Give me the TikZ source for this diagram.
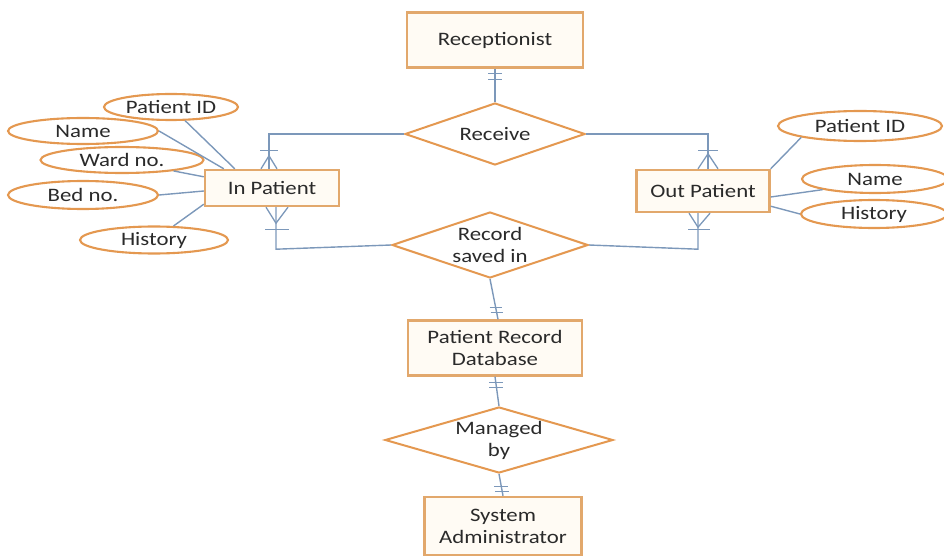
\documentclass[tikz,border=0pt]{standalone}
\usepackage{fontspec}
\setmainfont{Carlito}[FakeStretch=1.2]
\usetikzlibrary{shapes.geometric,calc}
\definecolor{edgeblue}{HTML}{7C98BA}
\definecolor{boxline}{HTML}{E2A86C}
\definecolor{ovalline}{HTML}{E49850}
\definecolor{boxfill}{HTML}{FFFBF4}
\definecolor{ink}{HTML}{2A2A2A}
\begin{document}
\begin{tikzpicture}[x=1pt,y=-1pt,
  every node/.style={font=\fontsize{19}{22}\selectfont, text=ink},
  entity/.style={draw=boxline, line width=2.4pt, fill=boxfill, align=center, inner sep=0pt},
  attr/.style={ellipse, draw=ovalline, line width=2.1pt, fill=white, inner sep=0pt},
  rel/.style={diamond, draw=ovalline, line width=2pt, fill=white, inner sep=0pt,
    label={[align=center]center:#1}},
  link/.style={draw=edgeblue, line width=1.4pt},
  tick/.style={draw=edgeblue, line width=1.3pt}]
\useasboundingbox (0,0) rectangle (944,556);

% entities
\node[entity, minimum width=176pt, minimum height=55pt] (rec) at (495,40) {Receptionist};
\node[entity, minimum width=134pt, minimum height=36pt] (ip) at (272,188) {In Patient};
\node[entity, minimum width=133pt, minimum height=42pt] (op) at (703,191) {Out Patient};
\node[entity, minimum width=174pt, minimum height=55pt] (db) at (495,348) {Patient Record\\Database};
\node[entity, minimum width=157pt, minimum height=58pt] (sa) at (503,526) {System\\Administrator};

% relationships
\node[rel={Receive}, minimum width=180pt, minimum height=62pt] (rcv) at (495,134) {};
\node[rel={Record\\saved in}, minimum width=196pt, minimum height=66pt] (rs) at (490,245) {};
\node[rel={Managed\\by}, minimum width=228pt, minimum height=66pt] (mb) at (499,440) {};

% attributes of In Patient
\node[attr, minimum width=134pt, minimum height=26pt] (pidL) at (171,107) {Patient ID};
\node[attr, minimum width=150pt, minimum height=26pt] (nameL) at (83,131) {Name};
\node[attr, minimum width=163pt, minimum height=26pt] (wardL) at (122,160) {Ward no.};
\node[attr, minimum width=150pt, minimum height=28pt] (bedL) at (83,195) {Bed no.};
\node[attr, minimum width=148pt, minimum height=27pt] (histL) at (154,240) {History};

% attributes of Out Patient
\node[attr, minimum width=164pt, minimum height=30pt] (pidR) at (860,126) {Patient ID};
\node[attr, minimum width=146pt, minimum height=28pt] (nameR) at (875,179) {Name};
\node[attr, minimum width=146pt, minimum height=28pt] (histR) at (874,214) {History};

% attribute links
\draw[link] (pidL) -- ($(ip.north west)+(31,0)$);
\draw[link] (nameL.east) -- ($(ip.north west)+(20,0)$);
\draw[link] (wardL.-12) -- ($(ip.north west)+(0,8)$);
\draw[link] (bedL.east) -- ($(ip.west)+(0,3)$);
\draw[link] (histL) -- ($(ip.south west)+(0,-3)$);
\draw[link] (pidR.south west) -- (op.north east);
\draw[link] (nameR.south west) -- ($(op.east)+(0,6)$);
\draw[link] (histR.west) -- ($(op.south east)+(0,-7)$);

% Receptionist -- Receive (one and only one)
\draw[link] (rec.south) -- (rcv.north);
\draw[tick] ($(rec.south)+(-7,5)$) -- ($(rec.south)+(7,5)$);
\draw[tick] ($(rec.south)+(-7,11)$) -- ($(rec.south)+(7,11)$);

% Receive -- In Patient (one or many)
\coordinate (ipT) at ($(ip.north)+(-3,0)$);
\draw[link] (rcv.west) -| (ipT);
\draw[tick] ($(ipT)+(-9,-18)$) -- ($(ipT)+(9,-18)$);
\draw[tick] ($(ipT)+(-8,0)$) -- ($(ipT)+(0,-13)$) -- ($(ipT)+(8,0)$);

% Receive -- Out Patient (one or many)
\coordinate (opT) at ($(op.north)+(5,0)$);
\draw[link] (rcv.east) -| (opT);
\draw[tick] ($(opT)+(-10,-18)$) -- ($(opT)+(10,-18)$);
\draw[tick] ($(opT)+(-10,0)$) -- ($(opT)+(0,-15)$) -- ($(opT)+(10,0)$);

% In Patient -- Record saved in (one or many)
\coordinate (ipB) at ($(ip.south)+(4,0)$);
\draw[link] (ipB) -- ($(ipB)+(0,42)$) -- (rs.west);
\draw[tick] ($(ipB)+(-11,22)$) -- ($(ipB)+(13,22)$);
\draw[tick] ($(ipB)+(-10,0)$) -- ($(ipB)+(0,16)$) -- ($(ipB)+(12,0)$);

% Out Patient -- Record saved in (one or many)
\coordinate (opB) at ($(op.south)+(-5,0)$);
\draw[link] (opB) -- ($(opB)+(0,36)$) -- (rs.east);
\draw[tick] ($(opB)+(-10,16)$) -- ($(opB)+(12,16)$);
\draw[tick] ($(opB)+(-9,0)$) -- ($(opB)+(0,14)$) -- ($(opB)+(12,0)$);

% Record saved in -- Patient Record Database (one and only one)
\coordinate (dbT) at ($(db.north)+(3,0)$);
\draw[link] (rs.south) -- (dbT);
\coordinate (b1) at ($(rs.south)!0.71!(dbT)$);
\coordinate (b2) at ($(rs.south)!0.83!(dbT)$);
\draw[tick] ($(b1)+(-6,0)$) -- ($(b1)+(6,0)$);
\draw[tick] ($(b2)+(-6,0)$) -- ($(b2)+(6,0)$);

% Patient Record Database -- Managed by (one and only one)
\draw[link] (db.south) -- (mb.north);
\coordinate (b3) at ($(db.south)!0.2!(mb.north)$);
\coordinate (b4) at ($(db.south)!0.37!(mb.north)$);
\draw[tick] ($(b3)+(-7,0)$) -- ($(b3)+(7,0)$);
\draw[tick] ($(b4)+(-7,0)$) -- ($(b4)+(7,0)$);

% Managed by -- System Administrator (one and only one)
\draw[link] (mb.south) -- (sa.north);
\coordinate (b5) at ($(mb.south)!0.58!(sa.north)$);
\coordinate (b6) at ($(mb.south)!0.79!(sa.north)$);
\draw[tick] ($(b5)+(-7,0)$) -- ($(b5)+(7,0)$);
\draw[tick] ($(b6)+(-7,0)$) -- ($(b6)+(7,0)$);
\end{tikzpicture}
\end{document}
